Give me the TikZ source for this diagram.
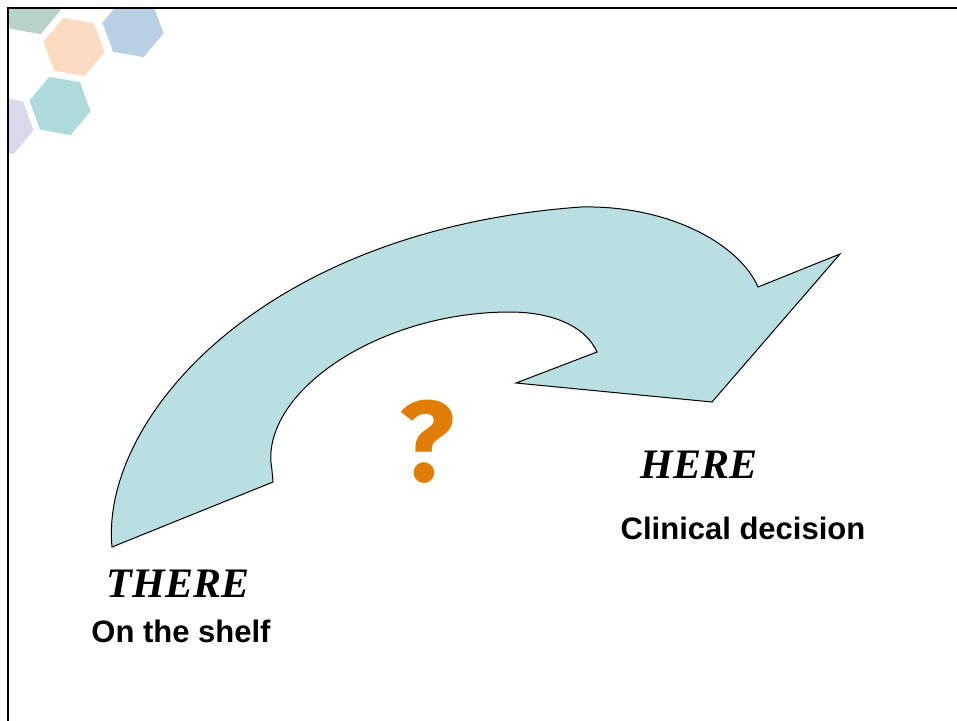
\documentclass[tikz,border=0pt]{standalone}
\usepackage{fontspec}
\setmainfont{Liberation Serif}
\newfontfamily\sansb{Liberation Sans}
\newfontfamily\qfont{Fira Sans}
\definecolor{arrowfill}{HTML}{BADFE2}
\definecolor{qorange}{HTML}{E07D07}
\definecolor{hexgreen}{HTML}{B9D2C8}
\definecolor{hexpeach}{HTML}{FBDCC3}
\definecolor{hexblue}{HTML}{B9D0E4}
\definecolor{hexteal}{HTML}{AFDADB}
\definecolor{hexlav}{HTML}{D8DAEC}
\tikzset{
  bigarrow/.style={fill=arrowfill, draw=black, line width=0.75pt, line join=miter},
  serifword/.style={font=\fontsize{31.5}{36}\selectfont\bfseries\itshape, inner sep=0pt, anchor=base},
  sansword/.style={font=\sansb\fontsize{23.25}{28}\selectfont\bfseries, inner sep=0pt, anchor=base},
  qstyle/.style={font=\qfont\fontsize{86}{90}\selectfont\bfseries, text=qorange, inner sep=0pt, anchor=center},
  frameline/.style={line width=1.9pt, black}
}
\begin{document}
\begin{tikzpicture}[x=0.75pt,y=-0.75pt]
\useasboundingbox (0,0) rectangle (957,721);
\fill[white] (0,0) rectangle (957,721);
% decorative hexagons
\begin{scope}
\clip (8,8) rectangle (957,721);
\foreach \cx/\cy/\col in {30/5/hexgreen, 74/47/hexpeach, 133/28/hexblue, 60/106/hexteal, 3/125/hexlav}{
  \fill[\col] ({\cx+31*cos(10)},{\cy+31*sin(10)})
    \foreach \a in {70,130,190,250,310}{ -- ({\cx+31*cos(\a)},{\cy+31*sin(\a)}) } -- cycle;
}
\end{scope}
% frame
\draw[frameline] (8,721) -- (8,8) -- (957,8);
% curved arrow
\draw[bigarrow]
  (112,547) .. controls (100,420) and (260,230) .. (581,207)
  .. controls (670,205) and (740,245) .. (758,287)
  -- (840,254) -- (712,402) -- (516,383) -- (597,352)
  .. controls (585,325) and (550,312) .. (510,312)
  .. controls (380,312) and (265,390) .. (271,463)
  .. controls (272,470) .. (273,482)
  -- cycle;
% question mark
\node[qstyle] (qmark) at (427,442) {?};
% labels
\node[serifword] (there) at (178,597) {THERE};
\node[sansword] (shelf) at (181,642) {On the shelf};
\node[serifword] (here) at (699,478) {HERE};
\node[sansword] (decision) at (743,539) {Clinical decision};
\end{tikzpicture}
\end{document}
